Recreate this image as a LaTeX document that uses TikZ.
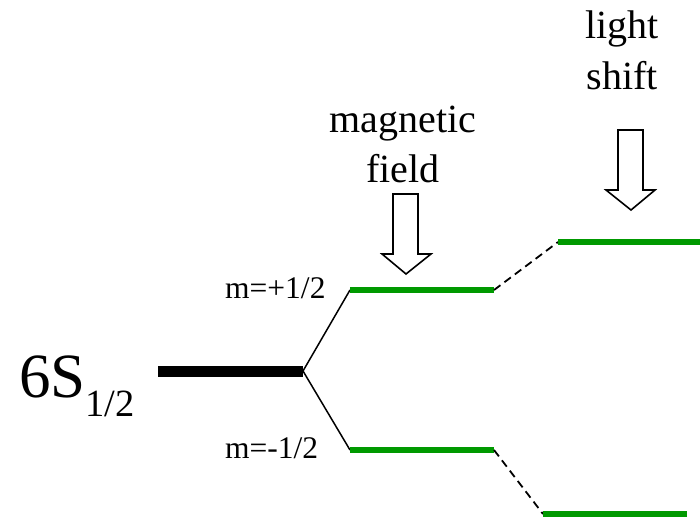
\documentclass[tikz,border=0pt]{standalone}
\usepackage{fontspec}
\setmainfont{Liberation Serif}
\definecolor{lvlgreen}{RGB}{0,153,0}
\begin{document}
\begin{tikzpicture}[x=1pt,y=-1pt,
  big/.style={font=\fontsize{40}{48}\selectfont, inner sep=0pt, anchor=base},
  small/.style={font=\fontsize{31.5}{36}\selectfont, inner sep=0pt, anchor=base west},
  groundlevel/.style={line width=11pt, black},
  sublevel/.style={line width=5.5pt, lvlgreen},
  splitline/.style={line width=1.5pt, black},
  shiftline/.style={line width=1.8pt, black, dash pattern=on 8pt off 5pt},
  fatarrow/.style={draw=black, line width=1.6pt, fill=white, line join=miter}]
\useasboundingbox (0,0) rectangle (700,521);

% coordinates
\coordinate (g0) at (158,371);
\coordinate (g1) at (303,371);
\coordinate (u0) at (350,290);
\coordinate (u1) at (494,290);
\coordinate (d0) at (350,450);
\coordinate (d1) at (494,450);
\coordinate (U0) at (558,242);
\coordinate (U1) at (700,242);
\coordinate (D0) at (543,514);
\coordinate (D1) at (687,514);

% levels
\draw[groundlevel] (g0) -- (g1);
\draw[splitline] (g1) -- (u0);
\draw[splitline] (g1) -- (d0);
\draw[sublevel] (u0) -- (u1);
\draw[sublevel] (d0) -- (d1);
\draw[shiftline] (u1) -- (U0);
\draw[shiftline] (d1) -- (D0);
\draw[sublevel] (U0) -- (U1);
\draw[sublevel] (D0) -- (D1);

% labels
\node[inner sep=0pt, anchor=base west] (term) at (19,397)
  {\fontsize{63}{70}\selectfont 6S\raisebox{-19pt}{\fontsize{38.5}{44}\selectfont 1/2}};
\node[small] (mp) at (225,298) {m=+1/2};
\node[small] (mm) at (225,458) {m=-1/2};
\node[big] (mag) at (403,133) {magnetic};
\node[big] (fld) at (403,183) {field};
\node[big] (lgt) at (622,39) {light};
\node[big] (shf) at (622,90) {shift};

% arrows
\draw[fatarrow] (393,194) -- (418,194) -- (418,254) -- (431,254) -- (406,274)
  -- (382,254) -- (393,254) -- cycle;
\draw[fatarrow] (618,130) -- (643,130) -- (643,190) -- (655,190) -- (631,210)
  -- (606,190) -- (618,190) -- cycle;
\end{tikzpicture}
\end{document}
